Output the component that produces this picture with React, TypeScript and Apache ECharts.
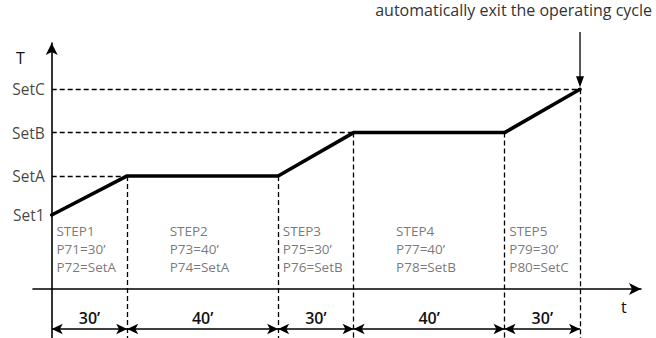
import React, { useEffect, useRef } from "react";
import * as echarts from "echarts";

// ---- data ----
const levelNames = ["Set1", "SetA", "SetB", "SetC"];
const levelValues = [1.73, 2.64, 3.65, 4.66];
const stepDurations = [30, 40, 30, 40, 30];
const stepSpans = [1, 2, 1, 2, 1]; // schematic width of each step on the time axis
const durationLabels = ["30’", "40’", "30’", "40’", "30’"];
const stepNames = ["STEP1", "STEP2", "STEP3", "STEP4", "STEP5"];
const stepTimeParams = ["P71=30’", "P73=40’", "P75=30’", "P77=40’", "P79=30’"];
const stepSetParams = ["P72=SetA", "P74=SetA", "P76=SetB", "P78=SetB", "P80=SetC"];
const profileTargets = ["Set1", "SetA", "SetA", "SetB", "SetB", "SetC"];
const annotationText = "automatically exit the operating cycle";

// axis extents (schematic units)
const X_MIN = -0.248;
const X_MAX = 7.808;
const Y_MIN = -1.14;
const Y_MAX = 5.74;
const STEP_TEXT_Y = 1.56;
const DIM_Y = -0.93;

const FONT = "Open Sans";

export default function App() {
  const ref = useRef<HTMLDivElement>(null);

  useEffect(() => {
    if (!ref.current) return;
    const chart = echarts.init(ref.current, undefined, { renderer: "svg" });

    const lv = (n: string) => levelValues[levelNames.indexOf(n)];
    const breakpoints: number[] = [0];
    stepSpans.forEach((s, i) => breakpoints.push(breakpoints[i] + s));
    const profile = breakpoints.map((x, i) => [x, lv(profileTargets[i])]);

    const guideLines: any[] = [];
    levelNames.slice(1).forEach((n) => {
      const idx = profileTargets.indexOf(n);
      if (idx > 0) guideLines.push([{ coord: [0, lv(n)] }, { coord: [breakpoints[idx], lv(n)] }]);
    });
    for (let i = 1; i < breakpoints.length; i++) {
      guideLines.push([{ coord: [breakpoints[i], profile[i][1]] }, { coord: [breakpoints[i], Y_MIN] }]);
    }

    const dimLines = stepDurations.map((d, i) => [
      { coord: [breakpoints[i], DIM_Y], name: durationLabels[i] },
      { coord: [breakpoints[i + 1], DIM_Y] },
    ]);

    const stepLabelData = stepNames.map((s, i) => ({
      value: [(breakpoints[i] + breakpoints[i + 1]) / 2, STEP_TEXT_Y],
      name: [s, stepTimeParams[i], stepSetParams[i]].join("\n"),
    }));

    const levelLabelData = levelNames.map((n, i) => ({ value: [0, levelValues[i]], name: n }));

    const baseGraphic: any[] = [
      {
        id: "tName",
        type: "text",
        left: 16,
        top: 50,
        style: { text: "T", fontFamily: FONT, fontSize: 16, fill: "#111" },
      },
      {
        id: "xName",
        type: "text",
        left: 621,
        top: 299,
        style: { text: "t", fontFamily: FONT, fontSize: 16, fill: "#111" },
      },
      {
        id: "annot",
        type: "text",
        right: 4,
        top: 2,
        style: { text: annotationText, fontFamily: FONT, fontSize: 16, fill: "#333" },
      },
    ];

    chart.setOption({
      animation: false,
      grid: { left: 33, right: 15, top: 43, bottom: 0 },
      xAxis: {
        type: "value",
        min: X_MIN,
        max: X_MAX,
        axisLine: {
          show: true,
          onZero: true,
          symbol: ["none", "arrow"],
          symbolSize: [9, 12],
          lineStyle: { color: "#000", width: 1.6 },
        },
        axisTick: { show: false },
        axisLabel: { show: false },
        splitLine: { show: false },
      },
      yAxis: {
        type: "value",
        min: Y_MIN,
        max: Y_MAX,
        axisLine: {
          show: true,
          onZero: true,
          symbol: ["none", "arrow"],
          symbolSize: [9, 12],
          lineStyle: { color: "#000", width: 1.6 },
        },
        axisTick: { show: false },
        axisLabel: { show: false },
        splitLine: { show: false },
      },
      series: [
        {
          type: "line",
          name: "profile",
          data: profile,
          symbol: "none",
          z: 5,
          lineStyle: { color: "#000", width: 3.5, cap: "round", join: "round" },
          markLine: {
            silent: true,
            symbol: ["none", "none"],
            label: { show: false },
            lineStyle: { color: "#000", width: 1.3, type: [5, 3] },
            data: guideLines,
          },
        },
        {
          type: "scatter",
          name: "levels",
          data: levelLabelData,
          symbolSize: 0,
          silent: true,
          label: {
            show: true,
            position: "left",
            distance: 7,
            formatter: "{b}",
            fontFamily: FONT,
            fontSize: 15.5,
            color: "#111",
          },
        },
        {
          type: "scatter",
          name: "steps",
          data: stepLabelData,
          symbolSize: 0,
          silent: true,
          label: {
            show: true,
            position: "inside",
            align: "left",
            verticalAlign: "top",
            offset: [-33, 0],
            formatter: "{b}",
            fontFamily: FONT,
            fontSize: 13.5,
            lineHeight: 18,
            color: "#555",
          },
        },
        {
          type: "line",
          name: "durations",
          data: [],
          markLine: {
            silent: true,
            symbol: ["arrow", "arrow"],
            symbolSize: [8, 11],
            lineStyle: { color: "#000", width: 1.5, type: "solid" },
            label: {
              show: true,
              position: "insideMiddleTop",
              distance: 3,
              formatter: "{b}",
              fontFamily: FONT,
              fontSize: 16,
              fontWeight: 600,
              color: "#111",
            },
            data: dimLines,
          },
        },
      ],
      graphic: baseGraphic,
    });

    // annotation arrow pointing at the end of the cycle
    const endIdx = breakpoints.length - 1;
    const p = chart.convertToPixel({ gridIndex: 0 }, [breakpoints[endIdx], profile[endIdx][1]]) as number[];
    const topY = 32;
    const tipY = p[1] - 2;
    chart.setOption(
      {
        graphic: [
          ...baseGraphic,
          {
            id: "arrowLine",
            type: "line",
            shape: { x1: p[0], y1: topY, x2: p[0], y2: tipY - 8 },
            style: { stroke: "#000", lineWidth: 1.3 },
          },
          {
            id: "arrowHead",
            type: "polygon",
            shape: { points: [[p[0] - 4, tipY - 11], [p[0] + 4, tipY - 11], [p[0], tipY]] },
            style: { fill: "#000" },
          },
        ],
      },
      { replaceMerge: ["graphic"] }
    );

    return () => chart.dispose();
  }, []);

  return <div ref={ref} style={{ width: 656, height: 338, position: "absolute", left: 0, top: 0 }} />;
}
